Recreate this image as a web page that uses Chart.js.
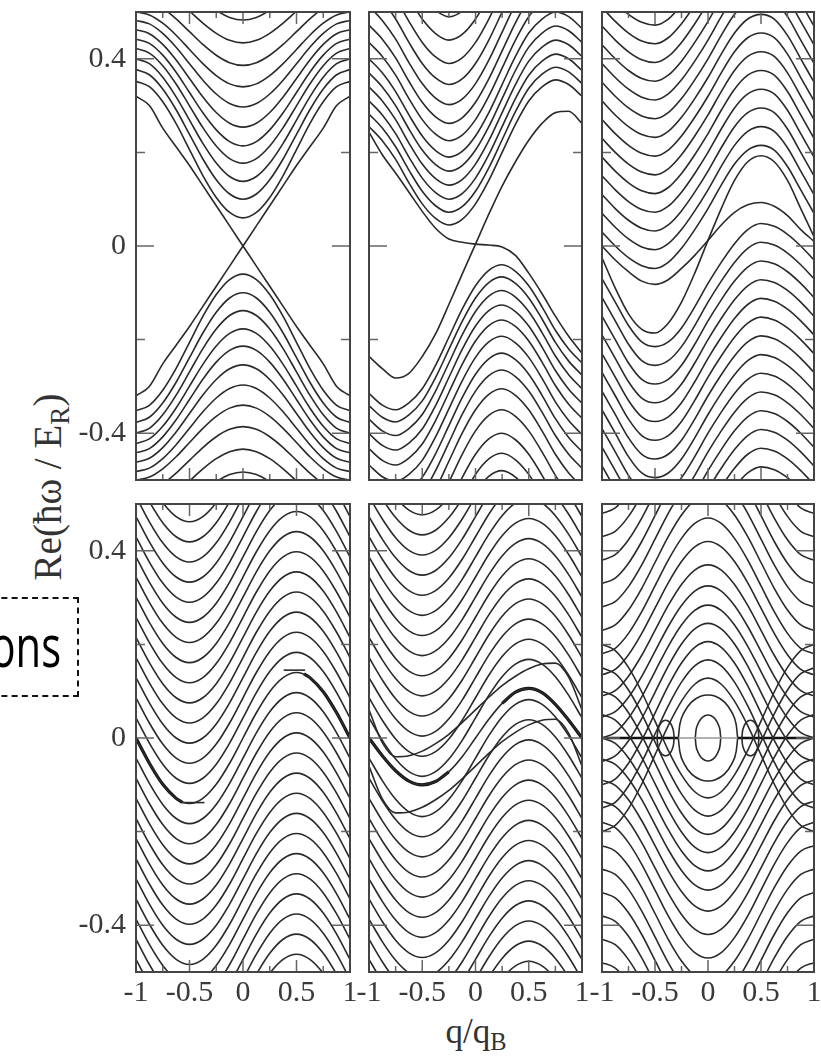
<!DOCTYPE html>
<html lang="en">
<head>
<meta charset="utf-8">
<title>Re(ħω / E_R) vs q/q_B</title>
<script src="https://cdn.jsdelivr.net/npm/chart.js@4.4.1/dist/chart.umd.min.js"></script>
<style>
  html, body { margin: 0; padding: 0; background: #fff; overflow: hidden; }
  #fig { position: relative; width: 821px; height: 1059px; overflow: hidden; }
  #fig canvas { position: absolute; }
  .title { position: absolute; font-family: 'Liberation Serif', 'Times New Roman', serif; color: #333; white-space: nowrap; line-height: 1; }
  .title sub { font-size: 70%; vertical-align: -0.3em; line-height: 0; }
  #ytitle { left: 47px; top: 487px; font-size: 39px; transform: translate(-50%, -50%) rotate(-90deg); }
  #xtitle { left: 476px; top: 1031px; font-size: 35px; transform: translate(-50%, -50%); }
  #note { position: absolute; left: -60px; top: 597px; width: 139px; height: 100px; box-sizing: border-box; border: 2px dashed #111; }
  #noteText { position: absolute; right: 760px; top: 616px; font-family: 'Open Sans', 'Noto Sans', sans-serif; font-size: 58px; line-height: 58px; color: #000; transform: scaleX(0.72); transform-origin: right center; }
</style>
</head>
<body>
<div id="fig">
  <div id="note"></div>
  <div id="noteText">ons</div>
  <div class="title" id="ytitle">Re(ħω / E<sub>R</sub>)</div>
  <div class="title" id="xtitle">q/q<sub>B</sub></div>
</div>
<script>
// sample positions along q/q_B shared by every band
const qGrid = [-1, -0.875, -0.75, -0.625, -0.5, -0.375, -0.25, -0.125, 0, 0.125, 0.25, 0.375, 0.5, 0.625, 0.75, 0.875, 1];

// tick values
const xTickLabels = [-1, -0.5, 0, 0.5, 1];
const yTickLabels = [-0.4, 0, 0.4];
const xMajorTicks = [-0.5, 0, 0.5];
const xMinorTicks = [-0.75, -0.25, 0.25, 0.75];
const yMajorTicks = [-0.4, 0, 0.4];
const yMinorTicks = [-0.2, 0.2];

// panel 1 (top left)
const p1LineUp = [-0.32, -0.30, -0.252, -0.212, -0.172, -0.129, -0.086, -0.043, 0, 0.043, 0.086, 0.129, 0.172, 0.212, 0.252, 0.30, 0.32];
const p1LineDown = [0.32, 0.30, 0.252, 0.212, 0.172, 0.129, 0.086, 0.043, 0, -0.043, -0.086, -0.129, -0.172, -0.212, -0.252, -0.30, -0.32];
const p1Profile = [1, 0.96, 0.85, 0.69, 0.5, 0.31, 0.15, 0.04, 0, 0.04, 0.15, 0.31, 0.5, 0.69, 0.85, 0.96, 1];
const p1Centers = [0.06, 0.10, 0.138, 0.177, 0.214, 0.254, 0.297, 0.34, 0.386, 0.434, 0.483];
const p1Edges = [0.352, 0.377, 0.40, 0.422, 0.442, 0.462, 0.482, 0.50, 0.53, 0.57, 0.62];

// panel 2 (top middle)
const p2LineA = [0.243, 0.195, 0.156, 0.115, 0.074, 0.038, 0.015, 0.008, 0.004, 0.002, -0.002, -0.02, -0.058, -0.102, -0.15, -0.193, -0.229];
const p2LineB = [-0.236, -0.262, -0.282, -0.272, -0.236, -0.188, -0.125, -0.06, 0.004, 0.068, 0.128, 0.18, 0.226, 0.262, 0.285, 0.288, 0.262];
const p2UpShape = [0.21, 0.18, 0.14, 0.09, 0.045, 0.014, 0, 0.012, 0.045, 0.095, 0.155, 0.215, 0.265, 0.295, 0.31, 0.30, 0.275];
const p2UpMin = [0.045, 0.072, 0.10, 0.13, 0.16, 0.19, 0.225, 0.262, 0.302, 0.345, 0.39, 0.44, 0.49];
const p2LowShape = [-0.275, -0.30, -0.31, -0.295, -0.265, -0.215, -0.155, -0.095, -0.045, -0.012, 0, -0.014, -0.045, -0.09, -0.14, -0.18, -0.21];
const p2LowMax = [-0.04, -0.066, -0.095, -0.126, -0.158, -0.193, -0.229, -0.265, -0.305, -0.35, -0.40, -0.443, -0.48];

// panel 3 (top right)
const p3LineA = [0.0, -0.03, -0.055, -0.075, -0.082, -0.072, -0.048, -0.02, 0.012, 0.045, 0.072, 0.088, 0.093, 0.085, 0.065, 0.035, 0.01];
const p3LineB = [-0.025, -0.09, -0.145, -0.178, -0.186, -0.165, -0.12, -0.058, 0.012, 0.08, 0.14, 0.18, 0.193, 0.18, 0.14, 0.08, 0.02];
const p3UpShape = [0, -0.03, -0.055, -0.072, -0.078, -0.065, -0.035, 0.005, 0.05, 0.10, 0.145, 0.175, 0.185, 0.175, 0.14, 0.09, 0.04];
const p3UpOffsets = [0.03, 0.07, 0.11, 0.15, 0.19, 0.23, 0.27, 0.31, 0.35, 0.39, 0.43, 0.47, 0.51, 0.55, 0.59];
const p3LowShape = [-0.04, -0.09, -0.14, -0.175, -0.185, -0.175, -0.145, -0.10, -0.05, -0.005, 0.035, 0.065, 0.078, 0.072, 0.055, 0.03, 0];
const p3LowOffsets = [-0.03, -0.07, -0.11, -0.15, -0.19, -0.23, -0.27, -0.31, -0.35, -0.39, -0.43, -0.47, -0.51, -0.55, -0.59];

// panel 4 (bottom left)
const p4Shape = [0, -0.054, -0.099, -0.129, -0.14, -0.129, -0.099, -0.054, 0, 0.054, 0.099, 0.129, 0.14, 0.129, 0.099, 0.054, 0];
const p4Offsets = [-0.602, -0.559, -0.516, -0.473, -0.43, -0.387, -0.344, -0.301, -0.258, -0.215, -0.172, -0.129, -0.086, -0.043, 0,
  0.043, 0.086, 0.129, 0.172, 0.215, 0.258, 0.301, 0.344, 0.387, 0.43, 0.473, 0.516, 0.559, 0.602];
const p4ThickLeftQ = [-1, -0.875, -0.75, -0.625, -0.57];
const p4ThickLeftY = [0, -0.054, -0.099, -0.129, -0.137];
const p4ThickRightQ = [0.57, 0.625, 0.75, 0.875, 1];
const p4ThickRightY = [0.137, 0.129, 0.099, 0.054, 0];
const p4FlatLowQ = [-0.58, -0.36];
const p4FlatLowY = [-0.138, -0.138];
const p4FlatHighQ = [0.38, 0.58];
const p4FlatHighY = [0.145, 0.145];

// panel 5 (bottom middle)
const p5Shape = [0, -0.048, -0.088, -0.115, -0.125, -0.115, -0.088, -0.048, 0, 0.048, 0.088, 0.115, 0.125, 0.115, 0.088, 0.048, 0];
const p5Offsets = [-0.602, -0.559, -0.516, -0.473, -0.43, -0.387, -0.344, -0.301, -0.258, -0.215, -0.172, -0.129, -0.086, -0.043,
  0.043, 0.086, 0.129, 0.172, 0.215, 0.258, 0.301, 0.344, 0.387, 0.43, 0.473, 0.516, 0.559, 0.602];
const p5Thick = [0, -0.038, -0.07, -0.092, -0.1, -0.093, -0.072, -0.04, 0, 0.04, 0.074, 0.098, 0.106, 0.097, 0.072, 0.038, 0];
const p5CrossShape = [0, -0.07, -0.1, -0.098, -0.088, -0.072, -0.052, -0.027, 0, 0.027, 0.052, 0.072, 0.088, 0.098, 0.1, 0.07, 0];
const p5CrossOffsets = [-0.06, 0.06];

// panel 6 (bottom right)
const p6Profile = [1, 0.96, 0.85, 0.69, 0.5, 0.31, 0.15, 0.04, 0, 0.04, 0.15, 0.31, 0.5, 0.69, 0.85, 0.96, 1];
const p6Centers = [0.128, 0.167, 0.206, 0.245, 0.284, 0.325, 0.37, 0.42, 0.47, 0.52, 0.57, 0.62, 0.67, 0.72, 0.77];
const p6Edges = [-0.2, -0.15, -0.1, -0.05, 0.0, 0.045, 0.09, 0.135, 0.18, 0.23, 0.28, 0.33, 0.38, 0.43, 0.48];
const p6OvalU = [-1, -0.95, -0.8, -0.55, -0.25, 0, 0.25, 0.55, 0.8, 0.95, 1];
const p6OvalH = [0, 0.31, 0.6, 0.84, 0.97, 1, 0.97, 0.84, 0.6, 0.31, 0];
const p6OvalCenter = [0, 0, -0.4, 0.4];
const p6OvalHalfWidth = [0.12, 0.28, 0.08, 0.08];
const p6OvalHeight = [0.049, 0.092, 0.038, 0.038];
const p6ZeroLeftQ = [-1, -0.28];
const p6ZeroRightQ = [0.28, 1];
const p6ZeroMidQ = [-0.28, 0.28];
const p6Zero = [0, 0];

const INK = '#2a2a2a';
const THICK_INK = '#111';
const FRAME_INK = '#444';
const TICK_INK = '#666';
const LABEL_INK = '#3a3a3a';
const TICK_FONT = { family: "'Liberation Serif', 'Times New Roman', serif", size: 30 };
const PAD = 40;
const X_AXIS_H = 60;

const ds = (pts, width, color) => ({ data: pts, borderColor: color || INK, borderWidth: width || 1.6 });
const onGrid = ys => qGrid.map((q, i) => ({ x: q, y: ys[i] }));
const shifted = (shape, off) => qGrid.map((q, i) => ({ x: q, y: shape[i] + off }));
const blended = (c, e, prof, sign) => qGrid.map((q, i) => ({ x: q, y: sign * (c + (e - c) * prof[i]) }));
const pairs = (xs, ys) => xs.map((x, i) => ({ x: x, y: ys[i] }));

// frame + inward ticks on all four sides
const frameTicks = {
  id: 'frameTicks',
  afterDatasetsDraw(chart) {
    const { ctx, chartArea: a, scales } = chart;
    const x = scales.x, y = scales.y;
    ctx.save();
    ctx.strokeStyle = TICK_INK;
    ctx.lineWidth = 1.5;
    ctx.beginPath();
    const yTick = (v, len) => {
      const p = y.getPixelForValue(v);
      ctx.moveTo(a.left, p); ctx.lineTo(a.left + len, p);
      ctx.moveTo(a.right, p); ctx.lineTo(a.right - len, p);
    };
    const xTick = (v, len) => {
      const p = x.getPixelForValue(v);
      ctx.moveTo(p, a.top); ctx.lineTo(p, a.top + len);
      ctx.moveTo(p, a.bottom); ctx.lineTo(p, a.bottom - len);
    };
    yMajorTicks.forEach(v => yTick(v, 18));
    yMinorTicks.forEach(v => yTick(v, 9));
    xMajorTicks.forEach(v => xTick(v, 12));
    xMinorTicks.forEach(v => xTick(v, 6));
    ctx.stroke();
    ctx.lineWidth = 2;
    ctx.strokeStyle = FRAME_INK;
    ctx.strokeRect(a.left, a.top, a.right - a.left, a.bottom - a.top);
    ctx.restore();
  }
};

function panel(left, top, w, h, datasets, showY, showX) {
  const padL = showY ? left : PAD;
  const padB = showX ? X_AXIS_H : PAD;
  const canvas = document.createElement('canvas');
  canvas.width = w + padL + PAD;
  canvas.height = h + PAD + padB;
  canvas.style.left = (left - padL) + 'px';
  canvas.style.top = (top - PAD) + 'px';
  document.getElementById('fig').appendChild(canvas);

  const x = { type: 'linear', min: -1, max: 1, display: showX, grid: { display: false, drawTicks: false }, border: { display: false } };
  const y = { type: 'linear', min: -0.5, max: 0.5, display: showY, grid: { display: false, drawTicks: false }, border: { display: false } };
  if (showX) {
    x.afterBuildTicks = s => { s.ticks = xTickLabels.map(v => ({ value: v })); };
    x.afterFit = s => { s.height = X_AXIS_H; };
    x.ticks = { autoSkip: false, maxRotation: 0, minRotation: 0, padding: 3, color: LABEL_INK, font: TICK_FONT, callback: v => String(v) };
  }
  if (showY) {
    y.afterBuildTicks = s => { s.ticks = yTickLabels.map(v => ({ value: v })); };
    y.afterFit = s => { s.width = left; };
    y.ticks = { autoSkip: false, padding: 10, color: LABEL_INK, font: TICK_FONT, callback: v => String(v) };
  }

  new Chart(canvas, {
    type: 'line',
    data: { datasets: datasets },
    options: {
      responsive: false,
      animation: false,
      devicePixelRatio: 1,
      events: [],
      layout: { padding: { left: showY ? 0 : PAD, right: PAD, top: PAD, bottom: showX ? 0 : PAD } },
      plugins: { legend: { display: false }, tooltip: { enabled: false }, colors: { enabled: false } },
      elements: { point: { radius: 0 }, line: { cubicInterpolationMode: 'monotone', fill: false } },
      scales: { x: x, y: y }
    },
    plugins: [frameTicks]
  });
}

// panel 1
panel(136, 12, 214, 468, [
  ds(onGrid(p1LineUp)), ds(onGrid(p1LineDown)),
  ...p1Centers.map((c, i) => ds(blended(c, p1Edges[i], p1Profile, 1))),
  ...p1Centers.map((c, i) => ds(blended(c, p1Edges[i], p1Profile, -1)))
], true, false);

// panel 2
panel(369, 12, 213, 468, [
  ds(onGrid(p2LineA)), ds(onGrid(p2LineB)),
  ...p2UpMin.map(m => ds(shifted(p2UpShape, m))),
  ...p2LowMax.map(m => ds(shifted(p2LowShape, m)))
], false, false);

// panel 3
panel(602, 12, 212, 468, [
  ds(onGrid(p3LineA)), ds(onGrid(p3LineB)),
  ...p3UpOffsets.map(o => ds(shifted(p3UpShape, o))),
  ...p3LowOffsets.map(o => ds(shifted(p3LowShape, o)))
], false, false);

// panel 4
panel(136, 504, 214, 468, [
  ...p4Offsets.map(o => ds(shifted(p4Shape, o))),
  ds(pairs(p4ThickLeftQ, p4ThickLeftY), 3.2, THICK_INK),
  ds(pairs(p4ThickRightQ, p4ThickRightY), 3.2, THICK_INK),
  ds(pairs(p4FlatLowQ, p4FlatLowY)),
  ds(pairs(p4FlatHighQ, p4FlatHighY))
], true, true);

// panel 5
panel(369, 504, 213, 468, [
  ...p5Offsets.map(o => ds(shifted(p5Shape, o))),
  ...p5CrossOffsets.map(o => ds(shifted(p5CrossShape, o))),
  ds(onGrid(p5Thick)),
  ds(pairs(qGrid.slice(0, 7), p5Thick.slice(0, 7)), 3.2, THICK_INK),
  ds(pairs(qGrid.slice(10), p5Thick.slice(10)), 3.2, THICK_INK)
], false, true);

// panel 6
const p6Ovals = [];
p6OvalCenter.forEach((cx, k) => {
  const xs = p6OvalU.map(u => cx + u * p6OvalHalfWidth[k]);
  p6Ovals.push(ds(pairs(xs, p6OvalH.map(hh => hh * p6OvalHeight[k]))));
  p6Ovals.push(ds(pairs(xs, p6OvalH.map(hh => -hh * p6OvalHeight[k]))));
});
panel(602, 504, 212, 468, [
  ds(pairs(p6ZeroMidQ, p6Zero), 1.5, '#999'),
  ...p6Ovals,
  ...p6Centers.map((c, i) => ds(blended(c, p6Edges[i], p6Profile, 1))),
  ...p6Centers.map((c, i) => ds(blended(c, p6Edges[i], p6Profile, -1))),
  ds(pairs(p6ZeroLeftQ, p6Zero), 2.6, THICK_INK),
  ds(pairs(p6ZeroRightQ, p6Zero), 2.6, THICK_INK)
], false, true);
</script>
</body>
</html>
